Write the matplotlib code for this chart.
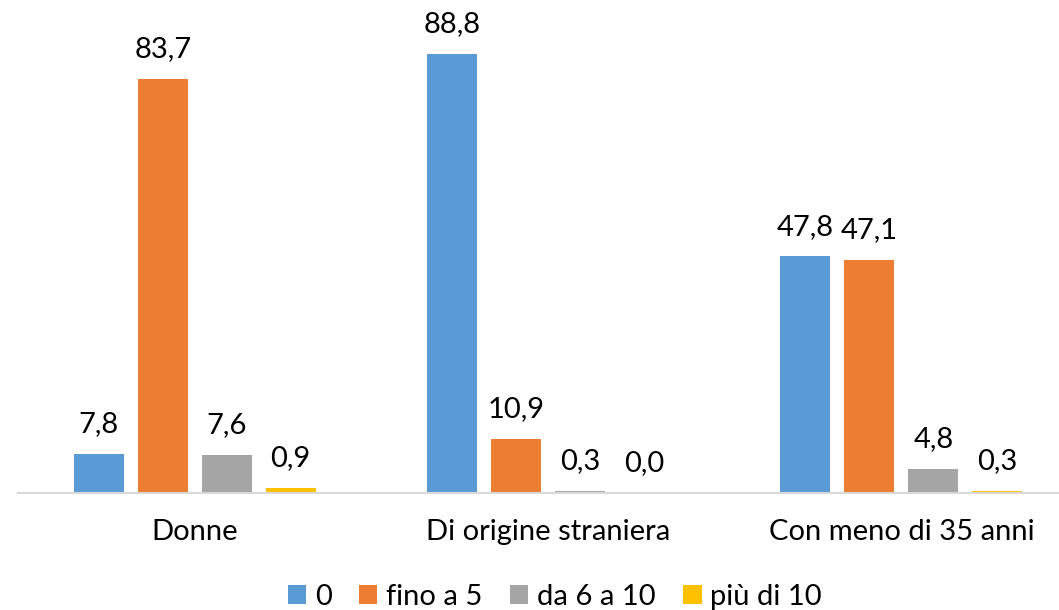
import matplotlib.pyplot as plt
import numpy as np

plt.rcParams["font.family"] = ["Lato", "DejaVu Sans"]

categories = ["Donne", "Di origine straniera", "Con meno di 35 anni"]
series = ["0", "fino a 5", "da 6 a 10", "più di 10"]
values_0 = [7.8, 88.8, 47.8]
values_fino5 = [83.7, 10.9, 47.1]
values_6_10 = [7.6, 0.3, 4.8]
values_piu10 = [0.9, 0.0, 0.3]
colors = ["#5B9BD5", "#ED7D31", "#A5A5A5", "#FFC000"]

W, H = 1059, 610
fig = plt.figure(figsize=(W / 100, H / 100), dpi=100)

# axes run from x=18px to ~1078px (clipped on the right like the original)
base_px = 492.5
px_per_unit = 4.94
ymax = 95
ax = fig.add_axes([18 / W, (H - base_px) / H, 1060 / W, ymax * px_per_unit / H])
ax.set_xlim(-0.5, 2.5)
ax.set_ylim(0, ymax)

fs = 21
x = np.arange(len(categories))
width = 0.1415
step = 0.181
all_values = [values_0, values_fino5, values_6_10, values_piu10]
for i, (name, vals) in enumerate(zip(series, all_values)):
    pos = x + (i - 1.5) * step
    ax.bar(pos, vals, width, color=colors[i], label=name, zorder=2)
    for p, v in zip(pos, vals):
        ax.annotate(f"{v:.1f}".replace(".", ","), (p, v), xytext=(0, 12),
                    textcoords="offset points", ha="center", va="bottom",
                    fontsize=fs, color="#000000")

for s in ["top", "right", "left"]:
    ax.spines[s].set_visible(False)
ax.spines["bottom"].set_color("#D9D9D9")
ax.spines["bottom"].set_linewidth(1.5)
ax.set_yticks([])
ax.set_xticks(x, labels=categories)
ax.tick_params(axis="x", length=0, pad=19, labelsize=fs)

ax.legend(loc="center", bbox_to_anchor=(0.524, (H - 597) / H), bbox_transform=fig.transFigure,
          ncol=4, frameon=False, fontsize=fs, handlelength=0.62, handleheight=0.62,
          handletextpad=0.3, columnspacing=0.95)

fig.savefig("out.png", dpi=100)
